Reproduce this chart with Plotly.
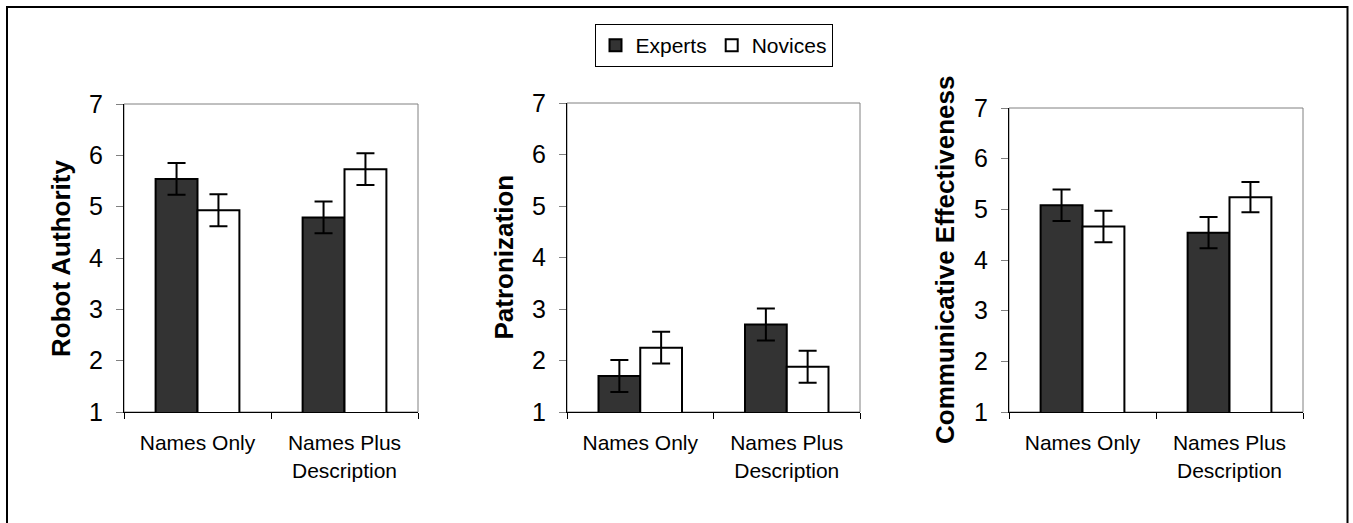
import plotly.graph_objects as go

categories = ["Names Only", "Names Plus<br>Description"]
series_names = ["Experts", "Novices"]
panel_titles = ["Robot Authority", "Patronization", "Communicative Effectiveness"]

authority_experts = [5.54, 4.79]
authority_novices = [4.93, 5.73]
authority_experts_err = [0.31, 0.31]
authority_novices_err = [0.31, 0.31]

patron_experts = [1.70, 2.70]
patron_novices = [2.25, 1.88]
patron_experts_err = [0.31, 0.31]
patron_novices_err = [0.31, 0.31]

comm_experts = [5.08, 4.54]
comm_novices = [4.66, 5.24]
comm_experts_err = [0.31, 0.31]
comm_novices_err = [0.31, 0.30]

y_ticks = [1, 2, 3, 4, 5, 6, 7]

W, H = 1353, 523
FONT = "Arial, Liberation Sans, sans-serif"
colors = {"Experts": "#333333", "Novices": "#ffffff"}

panels = [
    (authority_experts, authority_experts_err, authority_novices, authority_novices_err),
    (patron_experts, patron_experts_err, patron_novices, patron_novices_err),
    (comm_experts, comm_experts_err, comm_novices, comm_novices_err),
]

# pixel boxes (left, right, top, bottom)
boxes = [(124, 418, 104, 412), (567, 860, 103, 412), (1009, 1303, 108, 412)]
title_x = [61, 503, 945]

fig = go.Figure()
for i, (e, ee, n, ne) in enumerate(panels):
    ax = "" if i == 0 else str(i + 1)
    for name, vals, errs in [("Experts", e, ee), ("Novices", n, ne)]:
        fig.add_trace(go.Bar(
            x=categories, y=vals, name=name,
            xaxis="x" + ax, yaxis="y" + ax,
            marker=dict(color=colors[name], line=dict(color="black", width=2)),
            error_y=dict(type="data", array=errs, visible=True,
                         color="black", thickness=2, width=9),
            showlegend=(i == 0),
        ))
    l, r, t, b = boxes[i]
    xd = [l / W, r / W]
    yd = [(H - b) / H, (H - t) / H]
    fig.layout["xaxis" + ax] = dict(
        domain=xd, anchor="y" + ax, type="category", automargin=False,
        showline=True, linecolor="black", linewidth=1,
        ticks="outside", tickson="boundaries", ticklen=6, tickcolor="black",
        tickfont=dict(family=FONT, size=21, color="black"),
        ticklabelstandoff=12,
        showgrid=False, zeroline=False, fixedrange=True,
    )
    fig.layout["yaxis" + ax] = dict(
        domain=yd, anchor="x" + ax, range=[1, 7], automargin=False,
        tickvals=y_ticks, showline=True, linecolor="black", linewidth=1,
        ticks="outside", ticklen=7, tickcolor="#808080",
        tickfont=dict(family=FONT, size=25, color="black"),
        ticklabelstandoff=8,
        showgrid=False, zeroline=False, fixedrange=True,
    )
    # gray plot frame (top and right)
    fig.add_shape(type="rect", xref="paper", yref="paper",
                  x0=xd[0], x1=xd[1], y0=yd[0], y1=yd[1],
                  line=dict(color="#808080", width=1), layer="below")
    fig.add_annotation(
        text="<b>%s</b>" % panel_titles[i], xref="paper", yref="paper",
        x=title_x[i] / W, y=(yd[0] + yd[1]) / 2, textangle=-90,
        showarrow=False, xanchor="center", yanchor="middle",
        font=dict(family=FONT, size=26, color="black"),
    )

# outer frame
fig.add_shape(type="rect", xref="paper", yref="paper",
              x0=7 / W, x1=1347.5 / W, y0=-0.1, y1=(H - 7) / H,
              line=dict(color="black", width=2))

fig.update_layout(
    width=W, height=H, autosize=False,
    margin=dict(l=0, r=0, t=0, b=0, pad=0, autoexpand=False),
    paper_bgcolor="white", plot_bgcolor="white",
    barmode="group", bargap=0.43, bargroupgap=0,
    font=dict(family=FONT, color="black"),
    legend=dict(orientation="h", x=713.5 / W, y=(H - 24) / H,
                xanchor="center", yanchor="top",
                bordercolor="black", borderwidth=1, bgcolor="white",
                font=dict(family=FONT, size=21, color="black"),
                itemwidth=30, tracegroupgap=0),
    showlegend=True,
)

fig.write_html("out.html", config={"responsive": False, "displayModeBar": False},
               post_script="document.body.style.margin='0';document.body.style.overflow='hidden';")
